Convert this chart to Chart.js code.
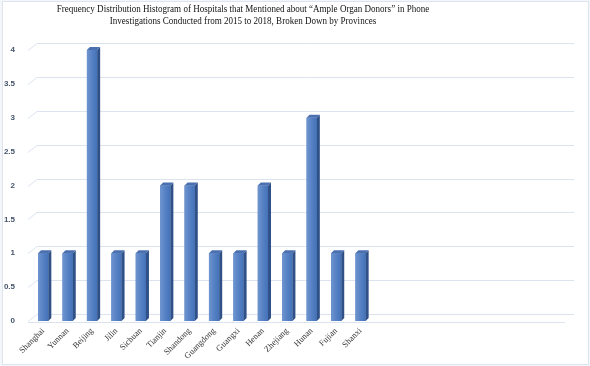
<!DOCTYPE html>
<html>
<head>
<meta charset="utf-8">
<script src="https://cdn.jsdelivr.net/npm/chart.js@4.4.0/dist/chart.umd.min.js"></script>
<style>
  html, body { margin: 0; padding: 0; background: #f3f6fa; }
  #wrap { position: absolute; left: 0; top: 0; width: 590px; height: 366px; }
  #frame { position: absolute; left: 2px; top: 1px; width: 585px; height: 362px; background: #fff; border: 1px solid #dfe4ec; }
  #title { position: absolute; left: 0; width: 486px; top: 3px; text-align: center;
           font-family: "Liberation Serif", "Times New Roman", serif; font-size: 10.5px; line-height: 11.5px; color: #111;
           transform: scaleX(0.86); transform-origin: 243px 0; }
  canvas { position: absolute; left: 0; top: 0; }
</style>
</head>
<body>
<div id="wrap">
  <div id="frame"></div>
  <canvas id="c" width="590" height="366"></canvas>
  <div id="title">Frequency Distribution Histogram of Hospitals that Mentioned about “Ample Organ Donors” in Phone<br>Investigations Conducted from 2015 to 2018, Broken Down by Provinces</div>
</div>
<script>
const categories = ["Shanghai", "Yunnan", "Beijing", "Jilin", "Sichuan", "Tianjin", "Shandong", "Guangdong", "Guangxi", "Henan", "Zhejiang", "Hunan", "Fujian", "Shanxi"];
const values = [1, 1, 4, 1, 1, 2, 2, 1, 1, 2, 1, 3, 1, 1];
const emptySlots = 8;
const yTicks = [0, 0.5, 1, 1.5, 2, 2.5, 3, 3.5, 4];

const labels = categories.concat(Array(emptySlots).fill(""));
const data = values.concat(Array(emptySlots).fill(null));

const DX = 3, DY = 3;       // bar depth
const WX = 9, WY = 7;       // back wall offset
const gridColor = "#dbe3ef";

const depthPlugin = {
  id: "depth",
  beforeDatasetsDraw(chart) {
    const ctx = chart.ctx, ys = chart.scales.y, a = chart.chartArea;
    const L = a.left - 3, R = a.right - 3;
    ctx.save();
    ctx.strokeStyle = gridColor;
    ctx.lineWidth = 1;
    yTicks.forEach(v => {
      const y = Math.round(ys.getPixelForValue(v)) + 0.5;
      ctx.beginPath();
      ctx.moveTo(L, y);
      ctx.lineTo(L + WX, y - WY);
      ctx.lineTo(R + WX, y - WY);
      ctx.stroke();
    });
    const y0 = Math.round(ys.getPixelForValue(0)) + 1.5;
    ctx.beginPath();
    ctx.moveTo(L, y0);
    ctx.lineTo(R, y0);
    ctx.stroke();
    ctx.restore();
  },
  afterDatasetsDraw(chart) {
    const ctx = chart.ctx;
    const meta = chart.getDatasetMeta(0);
    ctx.save();
    meta.data.forEach((bar, i) => {
      if (data[i] == null) return;
      const p = bar.getProps(["x", "y", "base", "width"], true);
      const x1 = p.x - p.width / 2, x2 = p.x + p.width / 2;
      const top = p.y, base = p.base;
      const g = ctx.createLinearGradient(x1, 0, x2, 0);
      g.addColorStop(0, "#6f95cf");
      g.addColorStop(0.5, "#5681c4");
      g.addColorStop(1, "#4472b8");
      ctx.fillStyle = g;
      ctx.fillRect(x1, top, x2 - x1, base - top);
      ctx.fillStyle = "#2f5188";
      ctx.beginPath();
      ctx.moveTo(x2, base);
      ctx.lineTo(x2, top);
      ctx.lineTo(x2 + DX, top - DY);
      ctx.lineTo(x2 + DX, base - DY);
      ctx.closePath();
      ctx.fill();
      ctx.fillStyle = "#4b70b0";
      ctx.beginPath();
      ctx.moveTo(x1, top);
      ctx.lineTo(x2, top);
      ctx.lineTo(x2 + DX, top - DY);
      ctx.lineTo(x1 + DX, top - DY);
      ctx.closePath();
      ctx.fill();
    });
    ctx.restore();
  }
};

new Chart(document.getElementById("c"), {
  type: "bar",
  data: {
    labels: labels,
    datasets: [{
      data: data,
      backgroundColor: "#5681c4",
      borderWidth: 0,
      barPercentage: 0.42,
      categoryPercentage: 1.0
    }]
  },
  options: {
    responsive: false,
    animation: false,
    events: [],
    layout: { padding: { top: 50, right: 22, left: 0, bottom: 0 } },
    plugins: { legend: { display: false }, tooltip: { enabled: false }, title: { display: false } },
    scales: {
      x: {
        grid: { display: false, drawTicks: false },
        border: { display: false },
        ticks: {
          autoSkip: false, maxRotation: 45, minRotation: 45, padding: 5,
          color: "#333",
          font: { family: "'Liberation Serif', 'Times New Roman', serif", size: 8.5 }
        },
        afterFit(s) { s.height = 45; }
      },
      y: {
        min: 0, max: 4,
        afterBuildTicks(s) { s.ticks = yTicks.map(v => ({ value: v })); },
        grid: { display: false, drawTicks: false },
        border: { display: false },
        ticks: {
          padding: 16,
          color: "#44546a",
          callback: v => String(v),
          font: { family: "'Liberation Sans', Arial, sans-serif", size: 8, weight: "bold" }
        },
        afterFit(s) { s.width = 31; }
      }
    }
  },
  plugins: [depthPlugin]
});
</script>
</body>
</html>
